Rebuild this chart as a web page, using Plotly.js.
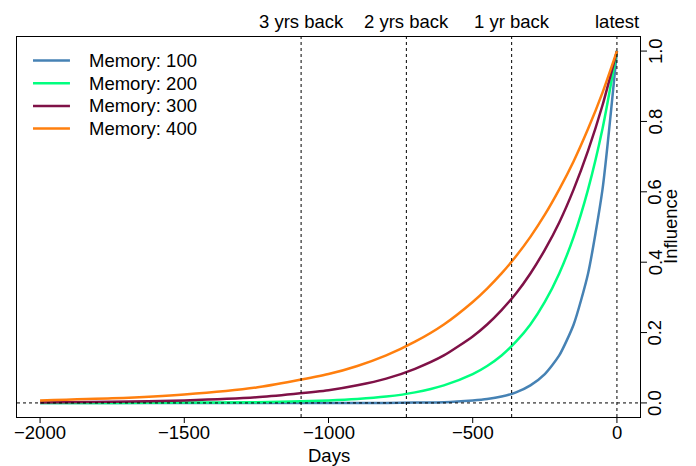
<!DOCTYPE html>
<html>
<head>
<meta charset="utf-8">
<script src="https://cdn.plot.ly/plotly-3.0.1.min.js"></script>
<style>html,body{margin:0;padding:0;background:#fff;}#chart{width:696px;height:466px;}</style>
</head>
<body>
<div id="chart"></div>
<script>
// Days before latest (x)
const days = [-2000, -1750, -1500, -1250, -1000, -900, -800, -700, -600, -500, -450, -400, -350, -300, -250, -200, -150, -100, -50, 0];
const mem100 = [0, 0, 0, 0, 0, 0, 0, 0.001, 0.002, 0.007, 0.011, 0.018, 0.030, 0.050, 0.082, 0.135, 0.223, 0.368, 0.607, 1];
const mem200 = [0, 0, 0.001, 0.002, 0.007, 0.011, 0.018, 0.030, 0.050, 0.082, 0.105, 0.135, 0.174, 0.223, 0.287, 0.368, 0.472, 0.607, 0.779, 1];
const mem300 = [0.001, 0.003, 0.007, 0.016, 0.036, 0.050, 0.069, 0.097, 0.135, 0.189, 0.223, 0.264, 0.311, 0.368, 0.435, 0.513, 0.607, 0.717, 0.846, 1];
const mem400 = [0.007, 0.013, 0.024, 0.044, 0.082, 0.105, 0.135, 0.174, 0.223, 0.287, 0.325, 0.368, 0.417, 0.472, 0.535, 0.607, 0.687, 0.779, 0.882, 1];
const seriesNames = ["Memory: 100", "Memory: 200", "Memory: 300", "Memory: 400"];
const seriesColors = ["#4682B4", "#00FF7F", "#7F1147", "#FF7F0E"];
const markerDays = [-1095, -730, -365, 0];
const markerLabels = ["3 yrs back", "2 yrs back", "1 yr back", "latest"];
const xTicks = [-2000, -1500, -1000, -500, 0];
const xTickText = ["\u22122000", "\u22121500", "\u22121000", "\u2212500", "0"];
const yTicks = [0, 0.2, 0.4, 0.6, 0.8, 1.0];
const yTickText = ["0.0", "0.2", "0.4", "0.6", "0.8", "1.0"];

const FS = 18.5;
const PW = 696 - 17 - 56, PH = 466 - 37 - 49;
const allY = [mem100, mem200, mem300, mem400];
const traces = allY.map((ys, i) => ({
  x: days, y: ys, type: 'scatter', mode: 'lines', name: seriesNames[i], showlegend: false,
  line: {color: seriesColors[i], width: 2.5, shape: 'spline', smoothing: 0.6}
}));

const shapes = markerDays.map(d => ({
  type: 'line', xref: 'x', yref: 'paper', x0: d, x1: d, y0: 0, y1: 1,
  line: {color: '#000', width: 1, dash: 'dot'}
}));
shapes.push({type: 'line', xref: 'paper', yref: 'y', x0: 0, x1: 1, y0: 0, y1: 0,
  line: {color: '#000', width: 1, dash: 'dot'}});
// outside tick marks (R style)
xTicks.forEach(t => shapes.push({type: 'line', xref: 'x', yref: 'paper', x0: t, x1: t, y0: 0, y1: -6 / PH,
  line: {color: '#000', width: 1}}));
yTicks.forEach(t => shapes.push({type: 'line', xref: 'paper', yref: 'y', x0: 1, x1: 1 + 7 / PW, y0: t, y1: t,
  line: {color: '#000', width: 1}}));

const annotations = markerDays.map((d, i) => ({
  x: d, xref: 'x', y: 1, yref: 'paper', yanchor: 'bottom', yshift: 3,
  text: markerLabels[i], showarrow: false, font: {size: FS, color: '#000'}
}));
// tick labels
xTicks.forEach((t, i) => annotations.push({x: t, xref: 'x', y: 0, yref: 'paper', yshift: -15,
  xanchor: 'center', yanchor: 'middle', text: xTickText[i], showarrow: false, font: {size: FS, color: '#000'}}));
yTicks.forEach((t, i) => annotations.push({x: 1, xref: 'paper', xshift: 15, y: t, yref: 'y',
  xanchor: 'center', yanchor: 'middle', textangle: -90, text: yTickText[i], showarrow: false,
  font: {size: FS, color: '#000'}}));

// Legend (top-left, boxless, R style)
const legTop = 0.938, legStep = 0.0597;
seriesNames.forEach((nm, i) => {
  const yy = legTop - i * legStep;
  shapes.push({type: 'line', xref: 'paper', yref: 'paper', x0: 0.0257, x1: 0.085, y0: yy, y1: yy,
    line: {color: seriesColors[i], width: 2.5}});
  annotations.push({x: 0.1124, y: yy, xref: 'paper', yref: 'paper', xanchor: 'left', yanchor: 'middle',
    text: nm, showarrow: false, font: {size: FS, color: '#000'}});
});

// Axis titles
annotations.push({x: 1, xref: 'paper', xshift: 30, y: 0.5, yref: 'paper', xanchor: 'center', yanchor: 'middle',
  textangle: -90, text: 'Influence', showarrow: false, font: {size: FS, color: '#000'}});
annotations.push({x: 0.5, xref: 'paper', y: 0, yref: 'paper', yshift: -38, xanchor: 'center', yanchor: 'middle',
  text: 'Days', showarrow: false, font: {size: FS, color: '#000'}});

const layout = {
  width: 696, height: 466,
  margin: {l: 17, r: 56, t: 37, b: 49},
  paper_bgcolor: '#fff', plot_bgcolor: '#fff',
  font: {family: 'Liberation Sans, Arial, sans-serif', size: FS, color: '#000'},
  showlegend: false,
  xaxis: {
    range: [-2080, 80], tickvals: xTicks, ticks: '', showticklabels: false,
    showgrid: false, zeroline: false, showline: true, linecolor: '#000', linewidth: 1, mirror: true
  },
  yaxis: {
    side: 'right', range: [-0.04, 1.04], tickvals: yTicks, ticks: '', showticklabels: false,
    showgrid: false, zeroline: false, showline: true, linecolor: '#000', linewidth: 1, mirror: true
  },
  shapes: shapes,
  annotations: annotations
};

Plotly.newPlot('chart', traces, layout, {displayModeBar: false, staticPlot: true});
</script>
</body>
</html>
